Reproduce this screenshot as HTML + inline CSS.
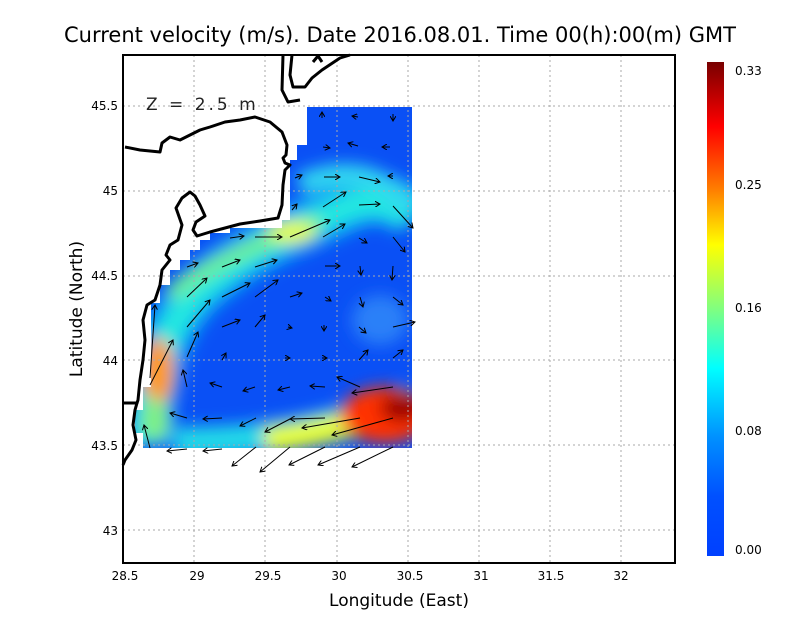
<!DOCTYPE html>
<html><head><meta charset="utf-8"><style>
html,body{margin:0;padding:0;background:#fff;}
svg{display:block;font-family:"DejaVu Sans","Liberation Sans",sans-serif;}
</style></head><body>
<svg width="800" height="618" viewBox="0 0 800 618" xmlns="http://www.w3.org/2000/svg">
<defs>
<clipPath id="dc"><polygon points="307,107 412,107 412,448 143,448 143,433 135,433 135,410 143,410 143,387 151,387 151,303 160,303 160,285 170,285 170,270 180,270 180,260 190,260 190,250 200,250 200,240 210,240 210,233 230,233 230,228 282,228 282,220 290,220 290,160 297,160 297,145 307,145"/></clipPath>
<filter id="b1" x="-50%" y="-50%" width="200%" height="200%"><feGaussianBlur stdDeviation="8"/></filter>
<linearGradient id="cb" x1="0" y1="0" x2="0" y2="1">
<stop offset="0" stop-color="#780000"/><stop offset="0.13" stop-color="#ff0000"/><stop offset="0.26" stop-color="#ff8000"/><stop offset="0.37" stop-color="#ffff00"/><stop offset="0.5" stop-color="#80ff80"/><stop offset="0.62" stop-color="#00ffff"/><stop offset="0.76" stop-color="#0090ff"/><stop offset="0.88" stop-color="#0050ff"/><stop offset="1" stop-color="#0040ff"/></linearGradient>
<marker id="ah" markerWidth="6" markerHeight="6" refX="5" refY="3" orient="auto" markerUnits="userSpaceOnUse"><path d="M0,0 L5,3 L0,6" fill="none" stroke="#000" stroke-width="1"/></marker>
</defs>
<g clip-path="url(#dc)">
<rect x="120" y="100" width="300" height="360" fill="#0a50f5"/>
<g filter="url(#b1)">
<path d="M148,445 C150,380 160,330 200,290 C240,255 280,235 330,215 C360,200 385,190 412,215" fill="none" stroke="#0aa8f5" stroke-width="50"/>
<path d="M148,445 C150,380 160,330 200,290 C240,255 280,235 330,215 C360,200 385,195 412,220" fill="none" stroke="#20e8e0" stroke-width="26"/>
<path d="M300,185 C340,168 380,170 412,210" fill="none" stroke="#30d8f0" stroke-width="22"/>
<path d="M170,295 C200,270 250,245 320,222" fill="none" stroke="#70f090" stroke-width="16"/>
<ellipse cx="292" cy="232" rx="24" ry="11" fill="#e8ff30"/>
<ellipse cx="158" cy="372" rx="16" ry="34" fill="#ff9a10"/>
<ellipse cx="155" cy="420" rx="14" ry="22" fill="#80f080"/>
<path d="M175,442 C260,442 320,432 412,400" fill="none" stroke="#20d8e8" stroke-width="30"/>
<path d="M265,440 C320,435 360,420 412,410" fill="none" stroke="#e8ff30" stroke-width="26"/>
<ellipse cx="385" cy="415" rx="45" ry="28" fill="#ff3000"/>
<ellipse cx="402" cy="408" rx="22" ry="14" fill="#9a0000"/>
<ellipse cx="380" cy="320" rx="28" ry="25" fill="#2a80f8"/>
</g>
</g>
<g stroke="#aaa" stroke-width="1" stroke-dasharray="2,3">
<line x1="194" y1="55" x2="194" y2="563"/><line x1="265" y1="55" x2="265" y2="563"/><line x1="337" y1="55" x2="337" y2="563"/><line x1="408" y1="55" x2="408" y2="563"/><line x1="479" y1="55" x2="479" y2="563"/><line x1="550" y1="55" x2="550" y2="563"/><line x1="621" y1="55" x2="621" y2="563"/>
<line x1="123" y1="106" x2="675" y2="106"/><line x1="123" y1="191" x2="675" y2="191"/><line x1="123" y1="276" x2="675" y2="276"/><line x1="123" y1="360" x2="675" y2="360"/><line x1="123" y1="445" x2="675" y2="445"/><line x1="123" y1="530" x2="675" y2="530"/>
</g>
<g fill="none" stroke="#000" stroke-width="3" stroke-linejoin="round">
<path d="M292,55 L290,75 L293,87 L305,87 L312,78 L322,70 L340,58 L350,55"/>
<path d="M313,62 L318,56 L322,62"/>
<path d="M283,55 L282,90 L288,102 L300,100"/>
<path d="M125,147 L140,150 L160,152 L162,143 L170,137 L180,140 L190,135 L200,130 L210,127 L225,122 L240,120 L255,117 L270,122 L282,132 L287,145 L286,155 L283,158 L285,163 L290,165 L285,170 L283,185 L282,205 L278,218 L260,221 L240,224 L225,228 L210,232 L197,236 L193,230 L196,222 L205,216 L200,205 L195,196 L190,192 L182,198 L176,208 L182,225 L178,240 L170,245 L166,255 L170,260 L162,270 L160,285 L155,300 L147,305 L143,320 L145,340 L143,360 L140,380 L138,400 L137,403 L123,403"/>
<path d="M137,403 L135,410 L133,425 L136,440 L132,450 L125,460 L123,465"/>
</g>
<g stroke="#000" stroke-width="1" marker-end="url(#ah)">
<line x1="322" y1="118" x2="322" y2="112"/><line x1="358" y1="117" x2="352" y2="116"/><line x1="393" y1="114" x2="393" y2="121"/>
<line x1="323" y1="147" x2="330" y2="148"/><line x1="358" y1="146" x2="348" y2="143"/><line x1="390" y1="147" x2="382" y2="147"/>
<line x1="295" y1="178" x2="302" y2="175"/><line x1="324" y1="177" x2="340" y2="177"/><line x1="359" y1="177" x2="380" y2="182"/><line x1="393" y1="176" x2="388" y2="176"/>
<line x1="292" y1="210" x2="297" y2="204"/><line x1="323" y1="207" x2="346" y2="192"/><line x1="359" y1="205" x2="380" y2="204"/><line x1="393" y1="206" x2="413" y2="228"/>
<line x1="230" y1="238" x2="244" y2="236"/><line x1="255" y1="237" x2="282" y2="237"/><line x1="290" y1="237" x2="330" y2="220"/><line x1="323" y1="237" x2="345" y2="224"/><line x1="359" y1="238" x2="367" y2="243"/><line x1="393" y1="237" x2="405" y2="252"/>
<line x1="187" y1="267" x2="198" y2="263"/><line x1="222" y1="267" x2="240" y2="260"/><line x1="255" y1="267" x2="277" y2="260"/><line x1="325" y1="266" x2="340" y2="266"/><line x1="360" y1="266" x2="361" y2="275"/><line x1="393" y1="266" x2="392" y2="280"/>
<line x1="187" y1="297" x2="207" y2="278"/><line x1="222" y1="297" x2="250" y2="283"/><line x1="255" y1="297" x2="278" y2="280"/><line x1="290" y1="297" x2="302" y2="293"/><line x1="325" y1="297" x2="331" y2="301"/><line x1="360" y1="297" x2="363" y2="307"/><line x1="393" y1="297" x2="403" y2="305"/>
<line x1="187" y1="327" x2="210" y2="300"/><line x1="222" y1="327" x2="240" y2="320"/><line x1="255" y1="327" x2="265" y2="315"/><line x1="150" y1="378" x2="155" y2="305"/><line x1="288" y1="327" x2="292" y2="328"/><line x1="324" y1="325" x2="324" y2="331"/><line x1="359" y1="327" x2="366" y2="333"/><line x1="393" y1="327" x2="415" y2="322"/>
<line x1="150" y1="385" x2="173" y2="340"/><line x1="187" y1="357" x2="198" y2="332"/><line x1="222" y1="360" x2="226" y2="353"/><line x1="285" y1="358" x2="290" y2="358"/><line x1="322" y1="358" x2="327" y2="358"/><line x1="359" y1="360" x2="368" y2="350"/><line x1="393" y1="358" x2="403" y2="350"/>
<line x1="187" y1="387" x2="183" y2="370"/><line x1="222" y1="387" x2="210" y2="383"/><line x1="255" y1="387" x2="243" y2="391"/><line x1="290" y1="387" x2="278" y2="390"/><line x1="325" y1="387" x2="310" y2="386"/><line x1="360" y1="387" x2="337" y2="377"/><line x1="393" y1="387" x2="352" y2="393"/>
<line x1="187" y1="418" x2="170" y2="413"/><line x1="222" y1="418" x2="203" y2="419"/><line x1="256" y1="418" x2="240" y2="426"/><line x1="290" y1="419" x2="265" y2="432"/><line x1="325" y1="418" x2="290" y2="419"/><line x1="360" y1="418" x2="302" y2="428"/><line x1="393" y1="418" x2="332" y2="435"/>
<line x1="150" y1="448" x2="144" y2="425"/><line x1="187" y1="449" x2="167" y2="451"/><line x1="222" y1="449" x2="203" y2="451"/><line x1="256" y1="447" x2="232" y2="466"/><line x1="290" y1="447" x2="260" y2="472"/><line x1="325" y1="447" x2="289" y2="465"/><line x1="360" y1="447" x2="318" y2="465"/><line x1="393" y1="447" x2="352" y2="467"/>
</g>
<rect x="123" y="55" width="552" height="508" fill="none" stroke="#000" stroke-width="2"/>
<text x="146" y="110" font-size="17" fill="#222" letter-spacing="3">Z = 2.5 m</text>
<text x="400" y="42" font-size="21" text-anchor="middle" fill="#000">Current velocity (m/s). Date 2016.08.01. Time 00(h):00(m) GMT</text>
<g font-size="12" text-anchor="middle" fill="#000">
<text x="125" y="580">28.5</text><text x="197" y="580">29</text><text x="268" y="580">29.5</text><text x="339" y="580">30</text><text x="410" y="580">30.5</text><text x="481" y="580">31</text><text x="551" y="580">31.5</text><text x="621" y="580">32</text>
</g>
<g font-size="12" text-anchor="end" fill="#000">
<text x="118" y="110">45.5</text><text x="118" y="195">45</text><text x="118" y="280">44.5</text><text x="118" y="365">44</text><text x="118" y="450">43.5</text><text x="118" y="535">43</text>
</g>
<text x="399" y="606" font-size="17" text-anchor="middle">Longitude (East)</text>
<text transform="translate(82,309) rotate(-90)" font-size="17" text-anchor="middle">Latitude (North)</text>
<rect x="707" y="62" width="17" height="494" fill="url(#cb)"/>
<g font-size="12" fill="#000">
<text x="735" y="75">0.33</text><text x="735" y="189">0.25</text><text x="735" y="312">0.16</text><text x="735" y="435">0.08</text><text x="735" y="554">0.00</text>
</g>
</svg>
</body></html>
